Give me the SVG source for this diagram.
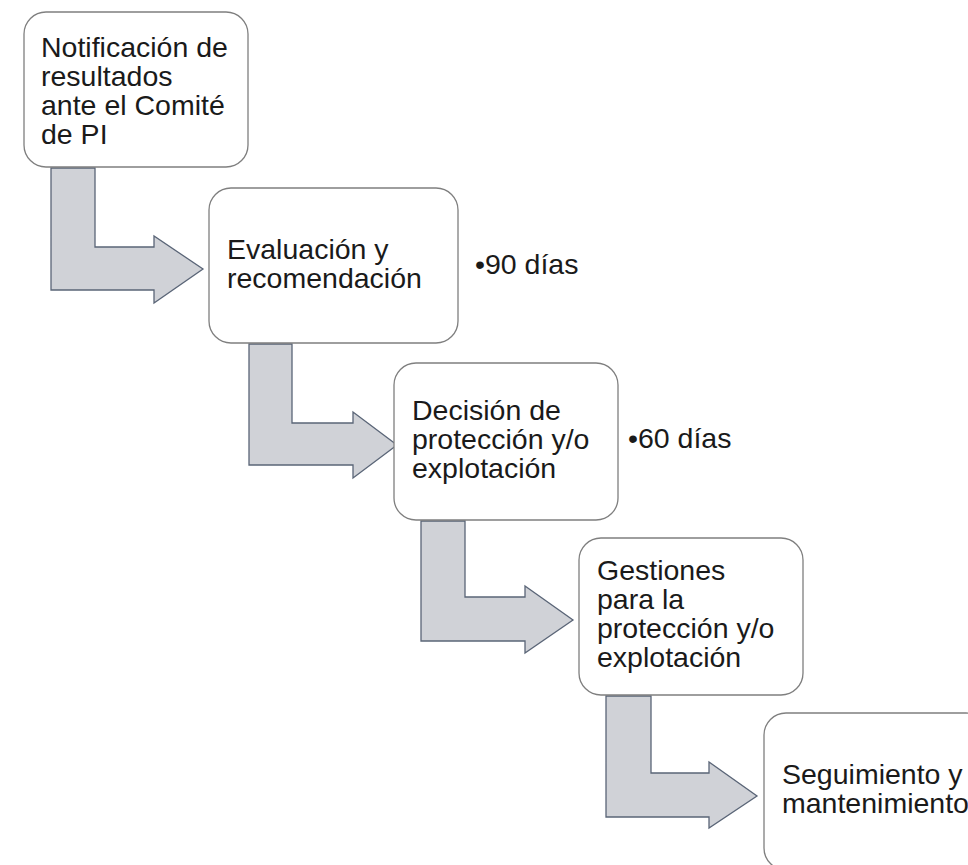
<svg xmlns="http://www.w3.org/2000/svg" width="968" height="865" viewBox="0 0 968 865">
<style>
.box{fill:#ffffff;stroke:#7f7f7f;stroke-width:1.3}
.arr{fill:#d0d2d7;stroke:#5a6577;stroke-width:1.3;stroke-linejoin:miter}
text{font-family:"Liberation Sans",Arial,sans-serif;font-size:28.5px;fill:#1a1a1a}
</style>
<rect width="968" height="865" fill="#ffffff"/>
<g id="connectors">
<polygon class="arr" points="51,168 95,168 95,247 154,247 154,236 203,269 154,303 154,290 51,290"/>
<polygon class="arr" points="249,344 292,344 292,423 353,423 353,412 397,445 353,478 353,465 249,465"/>
<polygon class="arr" points="421,521 465,521 465,597 525,597 525,586 573,620 525,653 525,641 421,641"/>
<polygon class="arr" points="606,696 651,696 651,773 709,773 709,762 757,796 709,828 709,817 606,817"/>
</g>
<g id="n1">
<rect class="box" x="24" y="12" width="224" height="155" rx="22"/>
<text x="41" y="57">Notificación de</text>
<text x="41" y="86">resultados</text>
<text x="41" y="115">ante el Comité</text>
<text x="41" y="144">de PI</text>
</g>
<g id="n2">
<rect class="box" x="209" y="188" width="249" height="155" rx="22"/>
<text x="227" y="259">Evaluación y</text>
<text x="227" y="288">recomendación</text>
</g>
<g id="t90"><text x="475" y="274">•90 días</text></g>
<g id="n3">
<rect class="box" x="394" y="363" width="224" height="157" rx="22"/>
<text x="412" y="420">Decisión de</text>
<text x="412" y="449">protección y/o</text>
<text x="412" y="478">explotación</text>
</g>
<g id="t60"><text x="628" y="448">•60 días</text></g>
<g id="n4">
<rect class="box" x="579" y="538" width="224" height="157" rx="22"/>
<text x="597" y="580">Gestiones</text>
<text x="597" y="609">para la</text>
<text x="597" y="638">protección y/o</text>
<text x="597" y="667">explotación</text>
</g>
<g id="n5">
<rect class="box" x="764" y="713" width="224" height="157" rx="22"/>
<text x="782" y="784">Seguimiento y</text>
<text x="782" y="813">mantenimiento</text>
</g>
</svg>
